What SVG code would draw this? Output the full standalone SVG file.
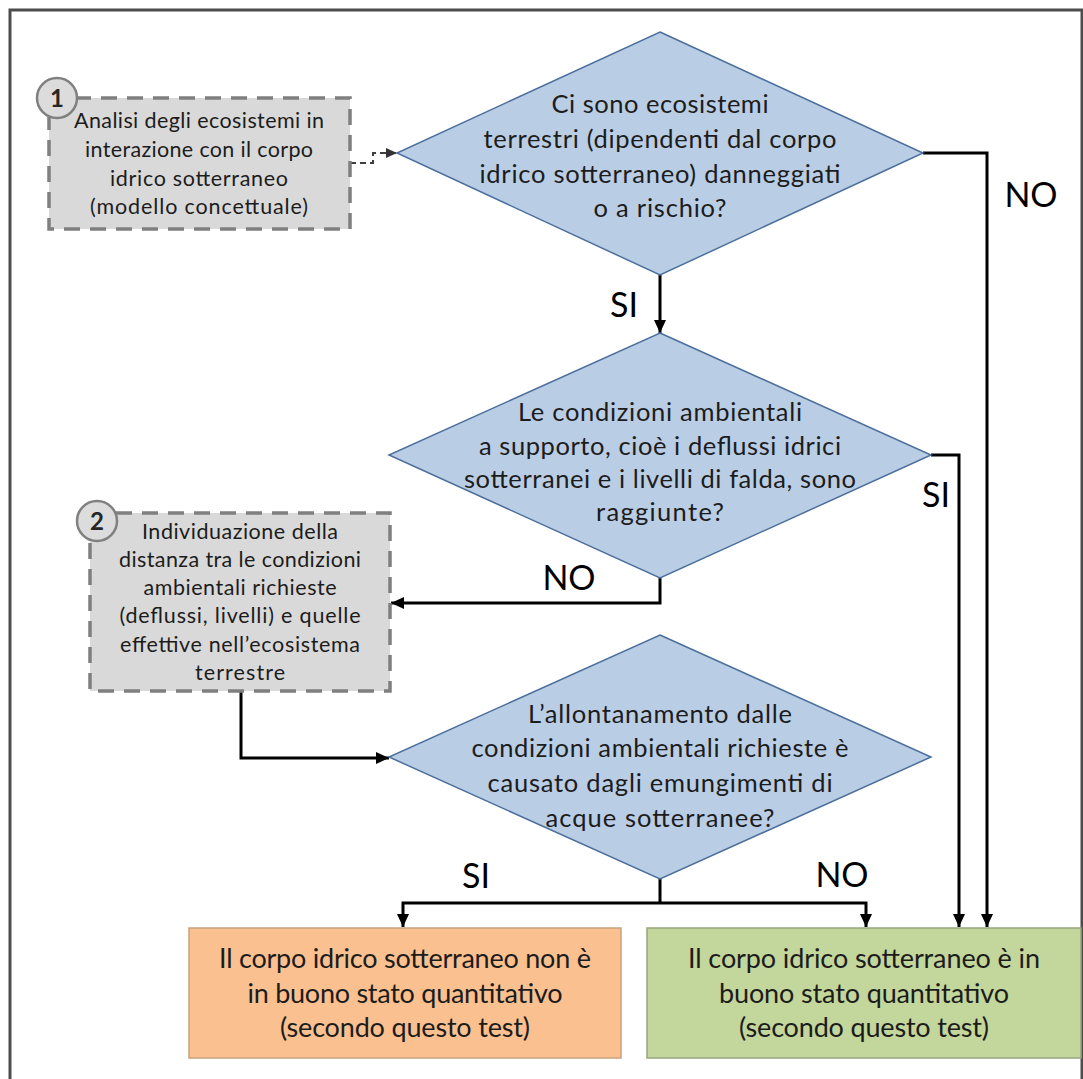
<svg xmlns="http://www.w3.org/2000/svg" width="1083" height="1079" viewBox="0 0 1083 1079">
<defs>
<style>
.dia{fill:#B9CDE5;stroke:#4B6F9C;stroke-width:1.5}
.dash{fill:#D9D9D9;stroke:#7F7F7F;stroke-width:3.5;stroke-dasharray:16 10}
.num{fill:#DCDCDC;stroke:#808080;stroke-width:2.5}
.t{font-family:Lato,"Open Sans",sans-serif;fill:#1c1c1c;text-anchor:middle}
.dt{font-size:25.5px}
.bt{font-size:21.5px}
.rt{font-size:27px}
.nt{font-size:24px;font-weight:bold;fill:#262626}
.lbl{font-size:34px;fill:#000}
.con{fill:none;stroke:#000;stroke-width:3}
.cond{fill:none;stroke:#404040;stroke-width:2;stroke-dasharray:6 4}
</style>
<marker id="ah" markerUnits="userSpaceOnUse" markerWidth="13" markerHeight="12" refX="13" refY="6" orient="auto"><path d="M0,0 L13,6 L0,12 z" fill="#000"/></marker>
<marker id="ahd" markerUnits="userSpaceOnUse" markerWidth="11" markerHeight="10" refX="11" refY="5" orient="auto"><path d="M0,0 L11,5 L0,10 z" fill="#333"/></marker>
</defs>
<rect x="0" y="0" width="1083" height="1079" fill="#fff"/>
<rect x="10" y="10" width="1072" height="1090" fill="none" stroke="#4d4d4d" stroke-width="3"/>

<g id="connectors">
<path class="cond" d="M350,163 H373 V153 H397" marker-end="url(#ahd)"/>
<path class="con" d="M660,275 V333" marker-end="url(#ah)"/>
<path class="con" d="M923,153 H987 V927" marker-end="url(#ah)"/>
<path class="con" d="M931,455 H959 V927" marker-end="url(#ah)"/>
<path class="con" d="M660,578 V603 H391" marker-end="url(#ah)"/>
<path class="con" d="M241,691 V758 H389" marker-end="url(#ah)"/>
<path class="con" d="M660,879 V903"/>
<path class="con" d="M660,903 H403 V927" marker-end="url(#ah)"/>
<path class="con" d="M660,903 H866 V927" marker-end="url(#ah)"/>
<text class="t lbl" x="624" y="317">SI</text>
<text class="t lbl" x="1031" y="207">NO</text>
<text class="t lbl" x="936" y="507">SI</text>
<text class="t lbl" x="569" y="590">NO</text>
<text class="t lbl" x="476" y="888">SI</text>
<text class="t lbl" x="842" y="887">NO</text>
</g>

<g id="node1">
<rect class="dash" x="49" y="98" width="301" height="131"/>
<circle class="num" cx="57" cy="98" r="20"/>
<text class="t nt" x="57" y="107">1</text>
<text class="t bt" x="199" y="128" textLength="250">Analisi degli ecosistemi in</text>
<text class="t bt" x="199" y="157" textLength="228">interazione con il corpo</text>
<text class="t bt" x="199" y="186" textLength="178">idrico sotterraneo</text>
<text class="t bt" x="199" y="214" textLength="218">(modello concettuale)</text>
</g>

<g id="decision1">
<polygon class="dia" points="660,32 923,153 660,275 397,153"/>
<text class="t dt" x="660" y="113" textLength="217">Ci sono ecosistemi</text>
<text class="t dt" x="660" y="148" textLength="353">terrestri (dipendenti dal corpo</text>
<text class="t dt" x="660" y="183" textLength="361">idrico sotterraneo) danneggiati</text>
<text class="t dt" x="660" y="217" textLength="133">o a rischio?</text>
</g>

<g id="decision2">
<polygon class="dia" points="660,333 931,455 660,578 389,455"/>
<text class="t dt" x="660" y="421" textLength="284">Le condizioni ambientali</text>
<text class="t dt" x="660" y="455" textLength="362">a supporto, cioè i deflussi idrici</text>
<text class="t dt" x="660" y="488" textLength="392">sotterranei e i livelli di falda, sono</text>
<text class="t dt" x="660" y="521" textLength="128">raggiunte?</text>
</g>

<g id="node2">
<rect class="dash" x="90" y="513" width="300" height="178"/>
<circle class="num" cx="97" cy="521" r="20"/>
<text class="t nt" x="97" y="530">2</text>
<text class="t bt" x="240" y="539" textLength="196">Individuazione della</text>
<text class="t bt" x="240" y="567" textLength="242">distanza tra le condizioni</text>
<text class="t bt" x="240" y="595" textLength="193">ambientali richieste</text>
<text class="t bt" x="240" y="623" textLength="241">(deflussi, livelli) e quelle</text>
<text class="t bt" x="240" y="652" textLength="240">effettive nell’ecosistema</text>
<text class="t bt" x="240" y="680" textLength="90">terrestre</text>
</g>

<g id="decision3">
<polygon class="dia" points="660,635 931,757 660,879 389,757"/>
<text class="t dt" x="660" y="723" textLength="264">L’allontanamento dalle</text>
<text class="t dt" x="660" y="757" textLength="377">condizioni ambientali richieste è</text>
<text class="t dt" x="660" y="792" textLength="345">causato dagli emungimenti di</text>
<text class="t dt" x="660" y="827" textLength="229">acque sotterranee?</text>
</g>

<g id="result-no">
<rect x="189" y="928" width="432" height="130" fill="#FAC08F" stroke="#C9A27E" stroke-width="1.5"/>
<text class="t rt" x="405" y="968" textLength="372">Il corpo idrico sotterraneo non è</text>
<text class="t rt" x="405" y="1003" textLength="315">in buono stato quantitativo</text>
<text class="t rt" x="405" y="1037" textLength="250">(secondo questo test)</text>
</g>

<g id="result-yes">
<rect x="647" y="928" width="434" height="130" fill="#C3D69B" stroke="#97A57E" stroke-width="1.5"/>
<text class="t rt" x="864" y="968" textLength="352">Il corpo idrico sotterraneo è in</text>
<text class="t rt" x="864" y="1003" textLength="290">buono stato quantitativo</text>
<text class="t rt" x="864" y="1037" textLength="250">(secondo questo test)</text>
</g>
</svg>
